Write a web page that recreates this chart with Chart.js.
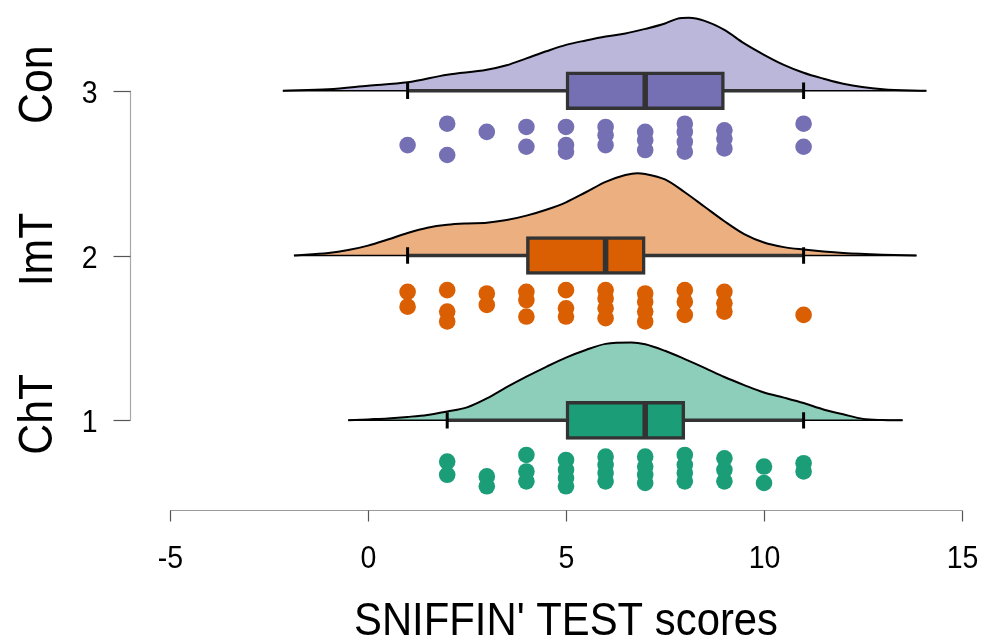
<!DOCTYPE html>
<html>
<head>
<meta charset="utf-8">
<script src="https://cdn.jsdelivr.net/npm/chart.js@4.4.1/dist/chart.umd.min.js"></script>
<style>
  html, body { margin: 0; padding: 0; background: #ffffff; }
  #wrap { width: 990px; height: 639px; position: relative; }
</style>
</head>
<body>
<div id="wrap"><canvas id="chart" width="990" height="639"></canvas></div>
<script>
// Groups (bottom to top) and their positions on the y axis
const groups = ['ChT', 'ImT', 'Con'];
const groupPos = [1, 2, 3];
const darkColors = ['#1b9e77', '#d95f02', '#7570b3'];
const lightColors = ['#8dcebb', '#ecaf80', '#bab7da'];

// Axis ticks and title
const xTicks = [-5, 0, 5, 10, 15];
const yTicks = [1, 2, 3];
const xTitle = "SNIFFIN' TEST scores";

// Box-plot summaries per group
const whiskerLow = [2, 1, 1];
const q1 = [5, 4, 5];
const medians = [7, 6, 7];
const q3 = [8, 7, 9];
const whiskerHigh = [11, 11, 11];

// Individual scores and their vertical jitter below each group's baseline
const chtScores = [2, 2, 3, 3, 4, 4, 4, 5, 5, 5, 5, 6, 6, 6, 6, 7, 7, 7, 7, 8, 8, 8, 8, 9, 9, 9, 10, 10, 11, 11];
const chtDrop   = [0.25, 0.33, 0.34, 0.40, 0.21, 0.31, 0.37, 0.24, 0.30, 0.35, 0.40, 0.22, 0.27, 0.32, 0.37, 0.22, 0.28, 0.33, 0.38, 0.21, 0.27, 0.32, 0.37, 0.23, 0.30, 0.37, 0.28, 0.38, 0.26, 0.31];

const imtScores = [1, 1, 2, 2, 2, 3, 3, 4, 4, 4, 5, 5, 5, 6, 6, 6, 6, 7, 7, 7, 7, 8, 8, 8, 9, 9, 9, 11];
const imtDrop   = [0.22, 0.31, 0.21, 0.34, 0.40, 0.23, 0.30, 0.22, 0.27, 0.37, 0.21, 0.32, 0.37, 0.21, 0.26, 0.32, 0.38, 0.23, 0.28, 0.34, 0.40, 0.21, 0.28, 0.36, 0.22, 0.29, 0.34, 0.36];

const conScores = [1, 2, 2, 3, 4, 4, 5, 5, 5, 6, 6, 6, 7, 7, 7, 8, 8, 8, 8, 9, 9, 9, 11, 11];
const conDrop   = [0.33, 0.20, 0.39, 0.25, 0.22, 0.34, 0.22, 0.33, 0.37, 0.22, 0.27, 0.33, 0.25, 0.30, 0.36, 0.20, 0.25, 0.31, 0.37, 0.24, 0.29, 0.35, 0.20, 0.34];

// Density ridges: score grid and ridge height (in y-axis units)
const chtDensX = [-0.5, 0, 0.5, 1, 1.5, 2, 2.5, 3, 3.5, 4, 4.5, 5, 5.5, 6, 6.65, 7, 7.5, 8, 8.5, 9, 9.5, 10, 10.5, 11, 11.5, 12, 12.5, 13, 13.5];
const chtDensH = [0, 0.006, 0.012, 0.021, 0.033, 0.054, 0.079, 0.133, 0.201, 0.265, 0.325, 0.381, 0.427, 0.464, 0.473, 0.462, 0.422, 0.372, 0.319, 0.263, 0.214, 0.169, 0.138, 0.105, 0.066, 0.037, 0.009, 0.002, 0];

const imtDensX = [-1.87, -1, -0.5, 0, 0.5, 1, 1.5, 2, 2.5, 3, 3.5, 4, 4.5, 5, 5.5, 6, 6.5, 6.8, 7, 7.5, 8, 8.5, 9, 9.5, 10, 10.5, 11, 11.5, 12, 13, 13.85];
const imtDensH = [0, 0.015, 0.033, 0.060, 0.097, 0.137, 0.169, 0.187, 0.195, 0.199, 0.215, 0.242, 0.278, 0.323, 0.384, 0.447, 0.489, 0.500, 0.495, 0.462, 0.384, 0.296, 0.208, 0.130, 0.079, 0.051, 0.036, 0.024, 0.015, 0.005, 0];

const conDensX = [-2.15, -1, 0, 1, 2, 3, 3.5, 4, 4.5, 5, 5.5, 6, 6.5, 7, 7.5, 7.8, 8.1, 8.5, 9, 9.5, 10, 10.5, 11, 11.5, 12, 13, 14.1];
const conDensH = [0, 0.009, 0.030, 0.051, 0.097, 0.127, 0.154, 0.196, 0.239, 0.278, 0.305, 0.329, 0.347, 0.375, 0.408, 0.436, 0.442, 0.424, 0.369, 0.287, 0.218, 0.157, 0.109, 0.073, 0.042, 0.009, 0];

const scoresByGroup = [chtScores, imtScores, conScores];
const dropByGroup = [chtDrop, imtDrop, conDrop];
const densXByGroup = [chtDensX, imtDensX, conDensX];
const densHByGroup = [chtDensH, imtDensH, conDensH];

// Half sizes of box and whisker caps, in y-axis units
const BOX_HALF = 0.109;
const CAP_HALF = 0.05;

const datasets = [];
groups.forEach((g, i) => {
  const base = groupPos[i];
  const dx = densXByGroup[i];
  const dh = densHByGroup[i];

  // density ridge
  datasets.push({
    type: 'line', label: g + ' density',
    data: dx.map((x, k) => ({ x: x, y: base + dh[k] })),
    borderColor: '#000000', borderWidth: 2,
    backgroundColor: lightColors[i], fill: { value: base },
    pointRadius: 0, cubicInterpolationMode: 'monotone', order: 60
  });
  // ridge baseline
  datasets.push({
    type: 'line', label: g + ' baseline',
    data: [{ x: dx[0], y: base }, { x: dx[dx.length - 1], y: base }],
    borderColor: '#000000', borderWidth: 1.5, pointRadius: 0, fill: false, order: 50
  });
  // whisker
  datasets.push({
    type: 'line', label: g + ' whisker',
    data: [{ x: whiskerLow[i], y: base }, { x: whiskerHigh[i], y: base }],
    borderColor: '#333333', borderWidth: 3.5, pointRadius: 0, fill: false, order: 40
  });
  // whisker caps
  [whiskerLow[i], whiskerHigh[i]].forEach(v => {
    datasets.push({
      type: 'line', label: g + ' cap',
      data: [{ x: v, y: base - CAP_HALF }, { x: v, y: base + CAP_HALF }],
      borderColor: '#000000', borderWidth: 3, pointRadius: 0, fill: false, order: 35
    });
  });
  // median
  datasets.push({
    type: 'line', label: g + ' median',
    data: [{ x: medians[i], y: base - BOX_HALF }, { x: medians[i], y: base + BOX_HALF }],
    borderColor: '#333333', borderWidth: 5.5, pointRadius: 0, fill: false, order: 10
  });
  // raw scores
  datasets.push({
    type: 'scatter', label: g + ' scores',
    data: scoresByGroup[i].map((s, k) => ({ x: s, y: base - dropByGroup[i][k] })),
    backgroundColor: darkColors[i], borderWidth: 0, pointRadius: 8.3, pointHoverRadius: 8.3, order: 5
  });
});

// interquartile boxes
datasets.push({
  type: 'bar', label: 'IQR', indexAxis: 'y',
  data: groups.map((g, i) => ({ x: [q1[i], q3[i]], y: groupPos[i] })),
  backgroundColor: darkColors, borderColor: '#333333', borderWidth: 3.5,
  borderSkipped: false, barThickness: 38, order: 20
});

// Slightly condensed sans text
const TEXT_SQUEEZE = 0.89;
function drawText(ctx, text, x, y, size, align) {
  ctx.save();
  ctx.translate(x, y);
  ctx.scale(TEXT_SQUEEZE, 1);
  ctx.textAlign = align;
  ctx.textBaseline = 'alphabetic';
  ctx.font = size + 'px "Liberation Sans", Arial, sans-serif';
  ctx.fillText(text, 0, 0);
  ctx.restore();
}

// Detached R-style axes drawn from the chart's scales
const baseAxes = {
  id: 'baseAxes',
  afterDraw(chart) {
    const { ctx, chartArea: area, scales } = chart;
    const xs = scales.x, ys = scales.y;
    ctx.save();
    ctx.fillStyle = '#000000';

    // x axis
    const axY = Math.round(area.bottom) + 0.5;
    const xL = xs.getPixelForValue(xTicks[0]);
    const xR = xs.getPixelForValue(xTicks[xTicks.length - 1]);
    ctx.strokeStyle = '#9a9a9a'; ctx.lineWidth = 1.2;
    ctx.beginPath(); ctx.moveTo(xL, axY); ctx.lineTo(xR, axY); ctx.stroke();
    ctx.strokeStyle = '#555555'; ctx.lineWidth = 1.2;
    xTicks.forEach(t => {
      const px = Math.round(xs.getPixelForValue(t)) + 0.5;
      ctx.beginPath(); ctx.moveTo(px, axY); ctx.lineTo(px, axY + 11); ctx.stroke();
      drawText(ctx, String(t), px, axY + 57, 32, 'center');
    });
    drawText(ctx, xTitle, (xL + xR) / 2, axY + 124, 47, 'center');

    // y axis
    const axX = Math.round(area.left - 40) + 0.5;
    const yTop = ys.getPixelForValue(yTicks[yTicks.length - 1]);
    const yBot = ys.getPixelForValue(yTicks[0]);
    ctx.strokeStyle = '#a8a8a8'; ctx.lineWidth = 1.2;
    ctx.beginPath(); ctx.moveTo(axX, yTop); ctx.lineTo(axX, yBot); ctx.stroke();
    ctx.strokeStyle = '#555555';
    yTicks.forEach(t => {
      const py = Math.round(ys.getPixelForValue(t)) + 0.5;
      ctx.beginPath(); ctx.moveTo(axX - 17, py); ctx.lineTo(axX, py); ctx.stroke();
      drawText(ctx, String(t), axX - 33, py + 11.5, 32, 'right');
    });

    // group names, rotated
    groups.forEach((g, i) => {
      const py = ys.getPixelForValue(groupPos[i]) - 6;
      ctx.save();
      ctx.translate(area.left - 118, py);
      ctx.rotate(-Math.PI / 2);
      drawText(ctx, g, 0, 0, 48, 'center');
      ctx.restore();
    });
    ctx.restore();
  }
};

new Chart(document.getElementById('chart'), {
  type: 'scatter',
  data: { datasets: datasets },
  options: {
    responsive: false,
    animation: false,
    devicePixelRatio: 1,
    layout: { padding: { left: 170, right: 28, top: 6.25, bottom: 129 } },
    scales: {
      x: { type: 'linear', min: -5, max: 15, display: false, offset: false },
      y: { type: 'linear', min: 0.4562, max: 3.5, display: false, offset: false, grid: { offset: false } }
    },
    plugins: { legend: { display: false }, tooltip: { enabled: false } }
  },
  plugins: [baseAxes]
});
</script>
</body>
</html>
